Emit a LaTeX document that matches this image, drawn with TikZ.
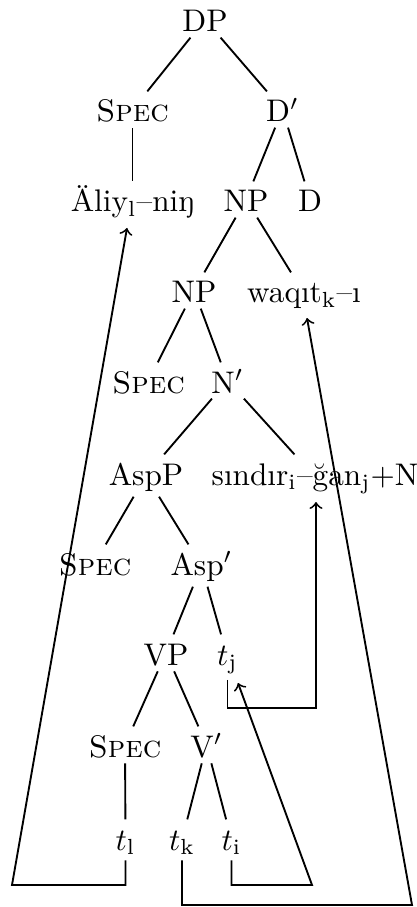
\documentclass[tikz,border=0pt]{standalone}
\usepackage{fontspec}
\begin{document}
\begin{tikzpicture}[x=0.32pt,y=-0.32pt,
  lbl/.style={anchor=base,inner sep=1.6pt,text height=8pt},
  edge/.style={line width=0.6pt},
  move/.style={line width=0.6pt,->}]
\useasboundingbox (0,0) rectangle (417,907);
% tree nodes, placed on their baselines
\node[lbl] (dp)    at (205,32)   {DP};
\node[lbl] (spA)   at (132.5,122) {\textsc{Spec}};
\node[lbl] (dbar)  at (282.5,122) {D$'$};
\node[lbl] (aliy)  at (132.5,212) {Äliy$_{\mathrm{l}}$–niŋ};
\node[lbl] (npA)   at (246,212)  {NP};
\node[lbl] (d)     at (310,212)  {D};
\node[lbl] (npB)   at (194,303)  {NP};
\node[lbl] (waq)   at (304,303)  {waqıt$_{\mathrm{k}}$–ı};
\node[lbl] (spB)   at (148.5,393) {\textsc{Spec}};
\node[lbl] (nbar)  at (227.5,393) {N$'$};
\node[lbl] (aspp)  at (146,485)  {AspP};
\node[lbl] (sind)  at (315,485)  {sındır$_{\mathrm{i}}$–ğan$_{\mathrm{j}}$+N};
\node[lbl] (spC)   at (95,575)   {\textsc{Spec}};
\node[lbl] (aspb)  at (201.5,575) {Asp$'$};
\node[lbl] (vp)    at (166,665)  {VP};
\node[lbl] (tj)    at (227.5,665) {$t_{\mathrm{j}}$};
\node[lbl] (spD)   at (125,757)  {\textsc{Spec}};
\node[lbl] (vbar)  at (206.5,757) {V$'$};
\node[lbl] (tl)    at (125.5,850) {$t_{\mathrm{l}}$};
\node[lbl] (tk)    at (182,850)  {$t_{\mathrm{k}}$};
\node[lbl] (ti)    at (231.5,850) {$t_{\mathrm{i}}$};
% branches
\foreach \p/\c in {dp/spA,dp/dbar,spA/aliy,dbar/npA,dbar/d,npA/npB,npA/waq,
  npB/spB,npB/nbar,nbar/aspp,nbar/sind,aspp/spC,aspp/aspb,aspb/vp,aspb/tj,
  vp/spD,vp/vbar,spD/tl,vbar/tk,vbar/ti}
  \draw[edge] (\p) -- (\c);
% corners and targets of the movement paths
\coordinate (lA) at (125.5,885);
\coordinate (lB) at (12,885);
\coordinate (lT) at (127,228);
\coordinate (kA) at (182,905);
\coordinate (kB) at (412,905);
\coordinate (kT) at (307,318);
\coordinate (iA) at (231.5,885);
\coordinate (iB) at (312,885);
\coordinate (iT) at (238,683);
\coordinate (jA) at (227.5,708);
\coordinate (jB) at (316,708);
\coordinate (jT) at (316,502);
% movement paths
\draw[move] (tl.south) -- (lA) -- (lB) -- (lT);
\draw[move] (tk.south) -- (kA) -- (kB) -- (kT);
\draw[move] (ti.south) -- (iA) -- (iB) -- (iT);
\draw[move] (tj.south) -- (jA) -- (jB) -- (jT);
\end{tikzpicture}
\end{document}
